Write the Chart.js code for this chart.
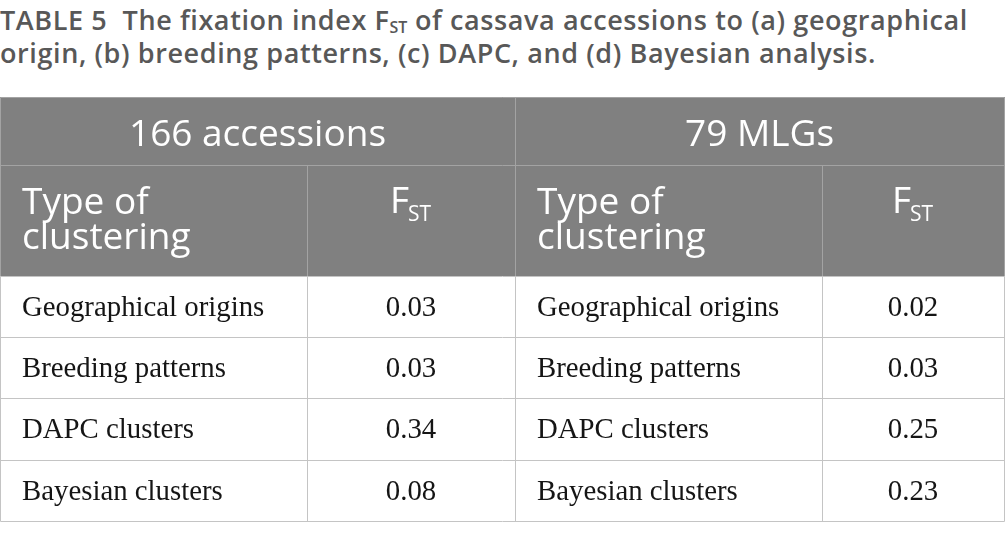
<!DOCTYPE html>
<html>
<head>
<meta charset="utf-8">
<script src="https://cdn.jsdelivr.net/npm/chart.js@4.4.1/dist/chart.umd.min.js"></script>
<style>
  html, body { margin: 0; padding: 0; background: #fff; }
  body { width: 1005px; height: 540px; position: relative; overflow: hidden; }
  #title {
    position: absolute; left: 0; top: 3px; width: 1005px;
    font-family: 'Open Sans', sans-serif; font-weight: 600; font-size: 27px;
    line-height: 33px; letter-spacing: 0.6px; color: #585858; white-space: nowrap;
  }
  #title sub { font-size: 16px; vertical-align: -3px; line-height: 0; letter-spacing: 0; }
  #wrap { position: absolute; left: 0; top: 97px; width: 1005px; height: 428px; }
</style>
</head>
<body>
<div id="title">TABLE 5&nbsp; The fixation index F<sub>ST</sub> of cassava accessions to (a) geographical<br>origin, (b) breeding patterns, (c) DAPC, and (d) Bayesian analysis.</div>
<div id="wrap"><canvas id="tbl" width="1005" height="428"></canvas></div>
<script>
// table content
const groups = ['166 accessions', '79 MLGs'];
const clusterings = ['Geographical origins', 'Breeding patterns', 'DAPC clusters', 'Bayesian clusters'];
const fst166 = [0.03, 0.03, 0.34, 0.08];
const fst79 = [0.02, 0.03, 0.25, 0.23];
const typeHeader = ['Type of', 'clustering'];

// layout in scale units
const colEdges = [0, 307, 515, 822, 1004];
const rowEdges = [0, 68, 179, 240, 301, 362.5, 424];

const headFont = "37px 'Open Sans', sans-serif";
const subFont = "21px 'Open Sans', sans-serif";
const bodyFont = "28.8px 'Liberation Serif', serif";

const tablePlugin = {
    id: 'tablePlugin',
    afterDraw(chart) {
        const { ctx, scales: { x, y } } = chart;
        const px = v => Math.round(x.getPixelForValue(v));
        const py = v => Math.round(y.getPixelForValue(v));
        const line = (x1, y1, x2, y2) => {
            ctx.beginPath();
            ctx.moveTo(x1 + 0.5, y1 + 0.5);
            ctx.lineTo(x2 + 0.5, y2 + 0.5);
            ctx.stroke();
        };

        ctx.save();
        // header background
        ctx.fillStyle = '#808080';
        ctx.fillRect(px(colEdges[0]), py(rowEdges[0]), px(colEdges[4]) - px(colEdges[0]) + 1, py(rowEdges[2]) - py(rowEdges[0]));

        // grid lines in header
        ctx.lineWidth = 1;
        ctx.strokeStyle = '#a3a3a3';
        line(px(colEdges[0]), py(rowEdges[0]), px(colEdges[4]), py(rowEdges[0]));
        line(px(colEdges[0]), py(rowEdges[1]), px(colEdges[4]), py(rowEdges[1]));
        line(px(colEdges[2]), py(rowEdges[0]), px(colEdges[2]), py(rowEdges[2]));
        line(px(colEdges[1]), py(rowEdges[1]), px(colEdges[1]), py(rowEdges[2]));
        line(px(colEdges[3]), py(rowEdges[1]), px(colEdges[3]), py(rowEdges[2]));
        line(px(colEdges[0]), py(rowEdges[0]), px(colEdges[0]), py(rowEdges[2]));
        line(px(colEdges[4]), py(rowEdges[0]), px(colEdges[4]), py(rowEdges[2]));

        // grid lines in body
        ctx.strokeStyle = '#c4c4c4';
        for (let r = 2; r < rowEdges.length; r++) {
            line(px(colEdges[0]), py(rowEdges[r]), px(colEdges[4]), py(rowEdges[r]));
        }
        colEdges.forEach(c => line(px(c), py(rowEdges[2]), px(c), py(rowEdges[6])));

        // header row 1
        ctx.fillStyle = '#ffffff';
        ctx.font = headFont;
        ctx.textAlign = 'center';
        ctx.textBaseline = 'alphabetic';
        groups.forEach((g, i) => {
            const cx = (x.getPixelForValue(colEdges[i * 2]) + x.getPixelForValue(colEdges[i * 2 + 2])) / 2;
            ctx.fillText(g, cx, y.getPixelForValue(rowEdges[0]) + 49);
        });

        // header row 2
        const top2 = y.getPixelForValue(rowEdges[1]);
        [0, 2].forEach(c => {
            ctx.textAlign = 'left';
            ctx.font = headFont;
            typeHeader.forEach((t, k) => ctx.fillText(t, x.getPixelForValue(colEdges[c]) + 22, top2 + 49 + k * 35));
            // F with subscript ST
            const cx = (x.getPixelForValue(colEdges[c + 1]) + x.getPixelForValue(colEdges[c + 2])) / 2;
            ctx.font = headFont;
            const wF = ctx.measureText('F').width;
            ctx.font = subFont;
            const wS = ctx.measureText('ST').width;
            const sx = cx - (wF + wS) / 2;
            ctx.font = headFont;
            ctx.fillText('F', sx, top2 + 48);
            ctx.font = subFont;
            ctx.fillText('ST', sx + wF - 1, top2 + 56);
        });

        // body rows
        ctx.fillStyle = '#151515';
        ctx.font = bodyFont;
        clusterings.forEach((name, i) => {
            const base = (y.getPixelForValue(rowEdges[i + 2]) + y.getPixelForValue(rowEdges[i + 3])) / 2 + 9.5;
            ctx.textAlign = 'left';
            ctx.fillText(name, x.getPixelForValue(colEdges[0]) + 22, base);
            ctx.fillText(name, x.getPixelForValue(colEdges[2]) + 22, base);
            ctx.textAlign = 'center';
            ctx.fillText(fst166[i].toFixed(2), (x.getPixelForValue(colEdges[1]) + x.getPixelForValue(colEdges[2])) / 2, base);
            ctx.fillText(fst79[i].toFixed(2), (x.getPixelForValue(colEdges[3]) + x.getPixelForValue(colEdges[4])) / 2, base);
        });
        ctx.restore();
    }
};

new Chart(document.getElementById('tbl').getContext('2d'), {
    type: 'scatter',
    data: { datasets: [] },
    options: {
        responsive: false,
        animation: false,
        layout: { padding: 0 },
        plugins: { legend: { display: false }, tooltip: { enabled: false } },
        scales: {
            x: { type: 'linear', min: 0, max: 1005, display: false },
            y: { type: 'linear', min: 0, max: 428, reverse: true, display: false }
        }
    },
    plugins: [tablePlugin]
});
</script>
</body>
</html>
